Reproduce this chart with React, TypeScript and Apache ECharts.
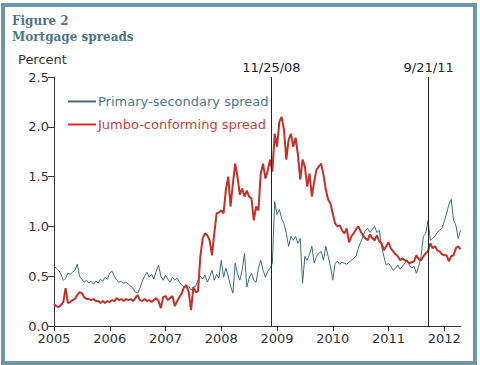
import React, { useEffect, useRef } from "react";
import * as echarts from "echarts";

const titleLines = ["Figure 2", "Mortgage spreads"];
const yAxisTitle = "Percent";
const yearTicks = [2005, 2006, 2007, 2008, 2009, 2010, 2011, 2012];
const eventDates = [2008.9, 2011.72];
const eventLabels = ["11/25/08", "9/21/11"];
const seriesNames = ["Primary-secondary spread", "Jumbo-conforming spread"];
const startYear = 2005;
const pointsPerYear = 24; // half-monthly observations

const primarySecondary = [
  // 2005
  0.60, 0.58, 0.56, 0.52, 0.46, 0.48, 0.53, 0.52, 0.54, 0.56, 0.62, 0.50,
  0.47, 0.44, 0.46, 0.43, 0.45, 0.42, 0.45, 0.43, 0.47, 0.45, 0.49, 0.47,
  // 2006
  0.53, 0.55, 0.50, 0.46, 0.44, 0.45, 0.43, 0.44, 0.42, 0.40, 0.38, 0.34,
  0.33, 0.38, 0.45, 0.50, 0.54, 0.49, 0.52, 0.47, 0.55, 0.61, 0.50, 0.46,
  // 2007
  0.51, 0.47, 0.44, 0.49, 0.46, 0.48, 0.44, 0.41, 0.39, 0.38, 0.40, 0.36,
  0.39, 0.40, 0.46, 0.50, 0.47, 0.51, 0.44, 0.49, 0.56, 0.46, 0.52, 0.48,
  // 2008
  0.66, 0.49, 0.58, 0.50, 0.40, 0.33, 0.63, 0.52, 0.46, 0.56, 0.73, 0.39,
  0.48, 0.53, 0.46, 0.44, 0.58, 0.66, 0.56, 0.49, 0.55, 0.58, 0.63, 1.25,
  // 2009
  1.12, 1.17, 1.08, 1.03, 0.93, 0.80, 0.90, 0.86, 0.90, 0.83, 0.88, 0.43,
  0.70, 0.66, 0.72, 0.80, 0.63, 0.70, 0.73, 0.75, 0.66, 0.80, 0.70, 0.60,
  // 2010
  0.46, 0.63, 0.65, 0.62, 0.64, 0.63, 0.62, 0.64, 0.66, 0.68, 0.70, 0.78,
  0.84, 0.90, 0.96, 0.98, 0.94, 0.97, 1.00, 0.94, 0.96, 0.80, 0.70, 0.61,
  // 2011
  0.63, 0.60, 0.56, 0.58, 0.61, 0.57, 0.60, 0.63, 0.66, 0.61, 0.58, 0.60,
  0.53, 0.60, 0.70, 0.90, 0.93, 1.06, 0.86, 0.88, 0.90, 0.94, 0.96, 0.98,
  // 2012
  1.05, 1.13, 1.22, 1.27, 1.06, 1.01, 0.88, 0.96,
];

const jumboConforming = [
  // 2005
  0.22, 0.20, 0.19, 0.21, 0.24, 0.38, 0.23, 0.24, 0.26, 0.27, 0.31, 0.34,
  0.33, 0.29, 0.27, 0.27, 0.26, 0.27, 0.25, 0.25, 0.23, 0.25, 0.23, 0.25,
  // 2006
  0.24, 0.26, 0.25, 0.28, 0.26, 0.27, 0.25, 0.27, 0.26, 0.27, 0.25, 0.28,
  0.31, 0.26, 0.25, 0.27, 0.25, 0.26, 0.24, 0.26, 0.28, 0.25, 0.18, 0.29,
  // 2007
  0.30, 0.26, 0.28, 0.30, 0.20, 0.25, 0.29, 0.33, 0.39, 0.41, 0.34, 0.16,
  0.39, 0.34, 0.35, 0.70, 0.88, 0.93, 0.91, 0.86, 0.71, 0.93, 1.13, 1.14,
  // 2008
  1.16, 1.13, 1.37, 1.50, 1.20, 1.43, 1.63, 1.50, 1.32, 1.38, 1.30, 1.36,
  1.30, 1.28, 1.06, 1.20, 1.16, 1.53, 1.63, 1.48, 1.56, 1.67, 1.55, 1.93,
  // 2009
  1.80, 2.05, 2.10, 1.97, 1.67, 1.87, 1.93, 1.80, 1.89, 1.72, 1.47, 1.67,
  1.60, 1.40, 1.53, 1.30, 1.45, 1.57, 1.60, 1.63, 1.52, 1.37, 1.27, 1.23,
  // 2010
  1.13, 1.03, 1.00, 1.01, 0.96, 0.93, 0.98, 0.84, 0.90, 0.93, 0.97, 1.00,
  0.95, 0.91, 0.88, 0.86, 0.92, 0.88, 0.86, 0.91, 0.85, 0.83, 0.76, 0.80,
  // 2011
  0.84, 0.78, 0.75, 0.72, 0.70, 0.66, 0.68, 0.66, 0.65, 0.63, 0.64, 0.65,
  0.71, 0.67, 0.66, 0.70, 0.73, 0.75, 0.83, 0.78, 0.80, 0.76, 0.75, 0.72,
  // 2012
  0.71, 0.71, 0.65, 0.70, 0.71, 0.78, 0.80, 0.77,
];

const toPairs = (vals: number[]) =>
  vals.map((v, i) => [startYear + i / pointsPerYear, v]);

const FONT = "DejaVu Sans";
const BLUE = "#3f6d7e";
const RED = "#c0322a";
const FRAME = "#6d97a5";
const TITLE = "#4f7686";

export default function App() {
  const ref = useRef<HTMLDivElement>(null);

  useEffect(() => {
    if (!ref.current) return;
    const chart = echarts.init(ref.current, undefined, { renderer: "svg" });
    chart.setOption({
      animation: false,
      backgroundColor: "#ffffff",
      textStyle: { fontFamily: FONT },
      grid: { left: 54, right: 19, top: 77, bottom: 39, containLabel: false },
      legend: {
        left: 62,
        top: 90,
        orient: "vertical",
        itemWidth: 28,
        itemHeight: 14,
        itemGap: 10,
        selectedMode: false,
        itemStyle: { color: "rgba(0,0,0,0)", borderWidth: 0, opacity: 0 },
        textStyle: { fontFamily: FONT, fontSize: 13, padding: [0, 0, 0, -3] },
        data: [
          { name: seriesNames[0], textStyle: { color: "#4d7b8d" } },
          { name: seriesNames[1], textStyle: { color: "#c2443b" } },
        ],
      },
      xAxis: {
        type: "value",
        min: 2005,
        max: 2012.3,
        interval: 1,
        splitLine: { show: false },
        axisLine: { show: true, lineStyle: { color: "#333", width: 1 } },
        axisTick: {
          show: true,
          length: 5,
          customValues: yearTicks,
          lineStyle: { color: "#333" },
        },
        axisLabel: {
          customValues: yearTicks,
          formatter: (v: number) => String(Math.round(v)),
          fontFamily: FONT,
          fontSize: 13,
          color: "#333",
          margin: 6,
        },
      },
      yAxis: {
        type: "value",
        min: 0,
        max: 2.5,
        interval: 0.5,
        splitLine: { show: false },
        axisLine: { show: true, lineStyle: { color: "#333", width: 1 } },
        axisTick: { show: true, length: 6, lineStyle: { color: "#333" } },
        axisLabel: {
          formatter: (v: number) => v.toFixed(1),
          fontFamily: FONT,
          fontSize: 13,
          color: "#333",
          margin: 5,
        },
      },
      graphic: [
        {
          type: "rect",
          shape: { x: 3, y: 5, width: 472, height: 358 },
          style: { fill: "none", stroke: FRAME, lineWidth: 4 },
          silent: true,
        },
        {
          type: "text",
          left: 12,
          top: 15,
          style: {
            text: titleLines[0],
            fontFamily: "DejaVu Serif",
            fontWeight: "bold",
            fontSize: 12,
            fill: TITLE,
          },
        },
        {
          type: "text",
          left: 12,
          top: 31,
          style: {
            text: titleLines[1],
            fontFamily: "DejaVu Serif",
            fontWeight: "bold",
            fontSize: 12,
            fill: TITLE,
          },
        },
        {
          type: "text",
          left: 18,
          top: 53,
          style: { text: yAxisTitle, fontFamily: FONT, fontSize: 13, fill: "#333" },
        },
      ],
      series: [
        {
          name: seriesNames[0],
          type: "line",
          symbol: "none",
          data: toPairs(primarySecondary),
          lineStyle: { color: BLUE, width: 1 },
          itemStyle: { color: BLUE },
          z: 2,
          markLine: {
            silent: true,
            symbol: ["none", "none"],
            lineStyle: { color: "#222", width: 1, type: "solid" },
            label: {
              show: true,
              position: "end",
              distance: 3,
              fontFamily: FONT,
              fontSize: 13,
              color: "#222",
            },
            data: eventDates.map((d, i) => ({
              xAxis: d,
              label: { formatter: eventLabels[i] },
            })),
          },
        },
        {
          name: seriesNames[1],
          type: "line",
          symbol: "none",
          data: toPairs(jumboConforming),
          lineStyle: { color: RED, width: 2 },
          itemStyle: { color: RED },
          z: 3,
        },
      ],
    });
    return () => chart.dispose();
  }, []);

  return (
    <div
      ref={ref}
      style={{ position: "fixed", left: 0, top: 0, width: 480, height: 365 }}
    />
  );
}
